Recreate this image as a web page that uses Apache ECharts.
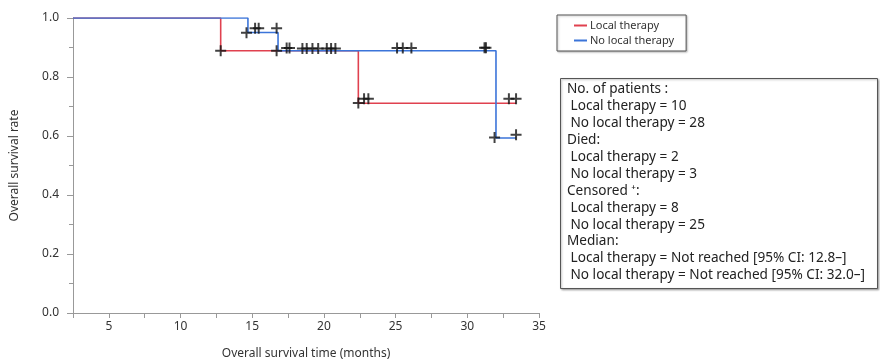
<!DOCTYPE html>
<html>
<head>
<meta charset="utf-8">
<script src="https://cdn.jsdelivr.net/npm/echarts@6/dist/echarts.min.js"></script>
<style>html,body{margin:0;padding:0;background:#fff;}#c{width:880px;height:362px;}</style>
</head>
<body>
<div id="c"></div>
<script>
// Kaplan-Meier step curves (time in months, survival rate)
const redTimes = [2.5, 12.8, 22.4, 33.4];
const redSurv  = [1.0, 0.889, 0.711, 0.711];
const blueTimes = [2.5, 14.7, 16.8, 32.0, 33.4];
const blueSurv  = [1.0, 0.951, 0.889, 0.593, 0.593];
// Censored marks
const redCensTimes = [12.8, 16.7, 22.4, 22.8, 23.1, 32.9, 33.4];
const redCensSurv  = [0.889, 0.889, 0.712, 0.726, 0.726, 0.726, 0.726];
const blueCensTimes = [14.6, 15.2, 15.45, 16.7, 17.4, 17.6, 18.5, 18.8, 19.2, 19.6, 20.2, 20.5, 20.8, 25.1, 25.5, 26.1, 31.2, 31.3, 31.9, 33.4];
const blueCensSurv  = [0.950, 0.965, 0.965, 0.965, 0.898, 0.898, 0.897, 0.897, 0.897, 0.897, 0.897, 0.897, 0.897, 0.898, 0.898, 0.898, 0.899, 0.899, 0.595, 0.604];
const seriesNames = ['Local therapy', 'No local therapy'];
const xTicks = [5, 10, 15, 20, 25, 30, 35];
const statLines = [
  'No. of patients :',
  ' Local therapy = 10',
  ' No local therapy = 28',
  'Died:',
  ' Local therapy = 2',
  ' No local therapy = 3',
  'Censored \u207A:',
  ' Local therapy = 8',
  ' No local therapy = 25',
  'Median:',
  ' Local therapy = Not reached [95% CI: 12.8\u2013]',
  ' No local therapy = Not reached [95% CI: 32.0\u2013]'
];

const zip = (a, b) => a.map((v, i) => [v, b[i]]);
const FONT = 'Noto Sans';
const plus = 'path://M0,4.1H4.1V0H5.9V4.1H10V5.9H5.9V10H4.1V5.9H0Z';

const chart = echarts.init(document.getElementById('c'), null, {renderer: 'canvas'});
chart.setOption({
  animation: false,
  textStyle: {fontFamily: FONT},
  grid: {left: 73, right: 341, top: 18, bottom: 49, containLabel: false, outerBoundsMode: 'none'},
  legend: {
    data: seriesNames,
    orient: 'vertical',
    left: 557, top: 15,
    padding: [5, 12, 5, 17],
    itemGap: 4,
    itemWidth: 13, itemHeight: 2,
    icon: 'rect',
    borderColor: '#555', borderWidth: 1,
    shadowColor: 'rgba(0,0,0,0.25)', shadowBlur: 2, shadowOffsetX: 1, shadowOffsetY: 1,
    backgroundColor: '#fff',
    textStyle: {fontSize: 11, color: '#333', fontFamily: FONT, padding: [0, 0, 0, -2]}
  },
  xAxis: {
    type: 'value', min: 2.5, max: 35, interval: 2.5,
    name: 'Overall survival time (months)', nameLocation: 'middle', nameGap: 35,
    nameTextStyle: {fontSize: 12, color: '#333'},
    axisLine: {lineStyle: {color: '#999', width: 1}},
    axisTick: {show: true, length: 5, lineStyle: {color: '#999'}},
    axisLabel: {fontSize: 12, color: '#333', margin: 8,
      formatter: v => xTicks.indexOf(v) >= 0 ? String(v) : ''},
    splitLine: {show: false}
  },
  yAxis: {
    type: 'value', min: 0, max: 1, interval: 0.2,
    name: 'Overall survival rate', nameLocation: 'middle', nameGap: 52,
    nameTextStyle: {fontSize: 12, color: '#333'},
    axisLine: {show: true, lineStyle: {color: '#999', width: 1}},
    axisTick: {show: true, length: 6, lineStyle: {color: '#999'}},
    minorTick: {show: true, splitNumber: 2, length: 4, lineStyle: {color: '#999'}},
    axisLabel: {fontSize: 12, color: '#333', margin: 14, formatter: v => v.toFixed(1)},
    splitLine: {show: false}
  },
  series: [
    {name: seriesNames[0], type: 'line', step: 'end', data: zip(redTimes, redSurv),
     symbol: 'none', color: '#e0414f', lineStyle: {width: 1.6, color: '#e0414f'}, z: 2},
    {name: seriesNames[1], type: 'line', step: 'end', data: zip(blueTimes, blueSurv),
     symbol: 'none', color: '#3b74d9', lineStyle: {width: 1.6, color: '#3b74d9'}, z: 3},
    {name: 'censRed', type: 'scatter', data: zip(redCensTimes, redCensSurv),
     symbol: plus, symbolSize: 11, itemStyle: {color: '#111'}, z: 5},
    {name: 'censBlue', type: 'scatter', data: zip(blueCensTimes, blueCensSurv),
     symbol: plus, symbolSize: 11, itemStyle: {color: '#111'}, z: 5}
  ],
  graphic: [
    {type: 'rect', left: 560, top: 78, shape: {width: 317, height: 210},
     style: {fill: '#fff', stroke: '#555', lineWidth: 1,
       shadowColor: 'rgba(0,0,0,0.3)', shadowBlur: 2, shadowOffsetX: 1, shadowOffsetY: 1}},
    {type: 'text', left: 567, top: 81,
     style: {text: statLines.join('\n'), fontSize: 13.6, lineHeight: 16.9, fill: '#222', fontFamily: FONT}}
  ]
});
</script>
</body>
</html>
